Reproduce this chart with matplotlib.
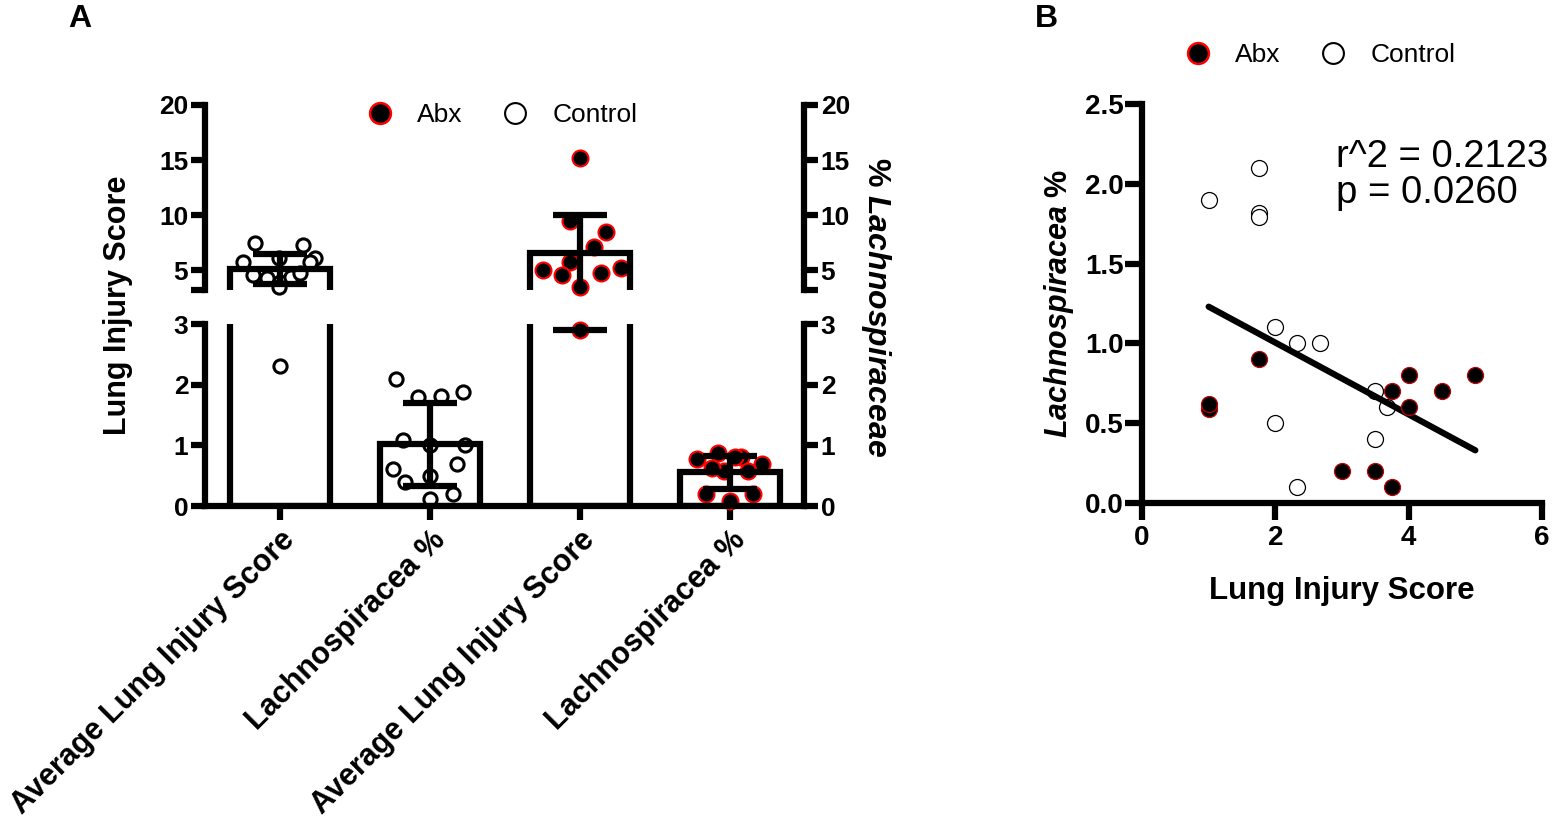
import numpy as np
import matplotlib
matplotlib.use("Agg")
import matplotlib.pyplot as plt
from matplotlib.lines import Line2D

plt.rcParams['font.family'] = ['Liberation Sans', 'DejaVu Sans']
plt.rcParams['mathtext.fontset'] = 'custom'
plt.rcParams['mathtext.rm'] = 'Liberation Sans'
plt.rcParams['mathtext.it'] = 'Liberation Sans:italic'
plt.rcParams['mathtext.bf'] = 'Liberation Sans:bold'
plt.rcParams['mathtext.bfit'] = 'Liberation Sans:italic:bold'

# -- Panel A: bars (mean with SD) --
bar_labels = ["Average Lung Injury Score", "Lachnospiracea %",
              "Average Lung Injury Score", "Lachnospiracea %"]
bar_means = [5.1, 1.03, 6.55, 0.56]
err_low = [3.75, 0.33, 2.9, 0.28]
err_high = [6.45, 1.70, 10.0, 0.83]

# individual points per bar (value, horizontal scatter offset)
ctrl_lung = [7.45, 7.3, 5.7, 6.1, 6.1, 5.7, 4.55, 4.3, 3.9, 4.4, 4.7, 3.5, 2.3]
ctrl_lung_jit = [-0.17, 0.15, -0.25, -0.01, 0.23, 0.2, -0.18, -0.09, 0.0, 0.07, 0.13, -0.01, 0.0]
ctrl_lach = [2.10, 1.80, 1.82, 1.88, 1.08, 1.0, 1.0, 0.69, 0.61, 0.50, 0.39, 0.19, 0.11]
ctrl_lach_jit = [-0.23, -0.08, 0.07, 0.22, -0.18, 0.0, 0.23, 0.18, -0.25, 0.0, -0.17, 0.15, 0.0]
abx_lung = [15.2, 9.5, 8.5, 7.1, 5.7, 5.0, 4.6, 4.7, 5.2, 3.5, 2.9]
abx_lung_jit = [0.0, -0.07, 0.17, 0.09, -0.07, -0.25, -0.12, 0.14, 0.27, 0.0, 0.0]
abx_lach = [0.77, 0.88, 0.80, 0.69, 0.58, 0.58, 0.62, 0.80, 0.19, 0.08, 0.19]
abx_lach_jit = [-0.22, -0.08, 0.07, 0.21, -0.04, 0.12, -0.12, 0.03, -0.16, 0.0, 0.15]

# -- Panel B: scatter with linear fit --
ctrl_x = [1.0, 1.76, 1.76, 1.76, 2.0, 2.33, 2.67, 2.0, 2.33, 3.5, 3.67, 3.5]
ctrl_y = [1.9, 2.1, 1.82, 1.79, 1.1, 1.0, 1.0, 0.5, 0.1, 0.7, 0.6, 0.4]
abx_x = [1.0, 1.01, 1.76, 3.0, 3.5, 3.75, 3.75, 4.0, 4.0, 4.5, 5.0]
abx_y = [0.59, 0.62, 0.9, 0.2, 0.2, 0.1, 0.7, 0.8, 0.6, 0.7, 0.8]
fit_x = [1.0, 5.0]
fit_y = [1.23, 0.33]

W, H = 1554, 822
LW = 4.5
fig = plt.figure(figsize=(W / 100, H / 100), dpi=100)

ax_hi = fig.add_axes([205 / W, 1 - 290 / H, 599 / W, 185 / H])
ax_lo = fig.add_axes([205 / W, 1 - 506 / H, 599 / W, 182 / H])
ax_b = fig.add_axes([1142 / W, 1 - 503 / H, 400 / W, 399 / H])

xpos = np.arange(len(bar_means))
means = np.array(bar_means)
cap_half = 0.18

groups = [(ctrl_lung, ctrl_lung_jit, 0, 'ctrl'),
          (ctrl_lach, ctrl_lach_jit, 1, 'ctrl'),
          (abx_lung, abx_lung_jit, 2, 'abx'),
          (abx_lach, abx_lach_jit, 3, 'abx')]

for ax, lo, hi in [(ax_lo, 0, 3), (ax_hi, 3.2, 20)]:
    ax.bar(xpos, means, width=0.667, color='white', edgecolor='none', zorder=1)
    ax.bar(xpos, means, width=0.667, fill=False, edgecolor='black', lw=LW, zorder=3)
    # SD bars: stem clipped to the segment, caps only where they fall inside it
    ax.vlines(xpos, err_low, err_high, color='black', lw=LW, zorder=4)
    for i in xpos:
        for yc in (err_low[i], err_high[i]):
            if lo <= yc <= hi:
                ax.hlines(yc, i - cap_half, i + cap_half, color='black', lw=LW,
                          zorder=4, clip_on=False)
    for vals, jit, i, kind in groups:
        v = np.array(vals)
        j = np.array(jit)
        keep = (v < 3.1) if ax is ax_lo else (v >= 3.1)
        if kind == 'ctrl':
            ax.plot(i + j[keep], v[keep], 'o', ms=9.5, mfc='white', mec='black',
                    mew=2.2, clip_on=False, zorder=2)
        else:
            ax.plot(i + j[keep], v[keep], 'o', ms=11.5, mfc='black', mec='red',
                    mew=1.5, clip_on=False, zorder=2)
    ax.set_xlim(-0.5, 3.493)
    ax.set_ylim(lo, hi)
    ax.spines['top'].set_visible(False)
    for sp in ax.spines.values():
        sp.set_linewidth(LW)
        sp.set_capstyle('projecting')
    ax.tick_params(axis='both', direction='out', width=LW, length=10, labelsize=19,
                   right=True, labelright=True)
    ax.tick_params(axis='y', pad=2)

ax_lo.set_yticks([0, 1, 2, 3])
ax_lo.set_yticklabels(['0', '1', '2', '3'])
ax_lo.set_xticks(xpos)
ax_lo.set_xticklabels(bar_labels, rotation=45, ha='right', rotation_mode='anchor',
                      fontsize=22, fontweight='bold')

ax_hi.set_yticks([3.2, 5, 10, 15, 20])
ax_hi.set_yticklabels(['', '5', '10', '15', '20'])
ax_hi.spines['bottom'].set_visible(False)
ax_hi.tick_params(axis='x', bottom=False, labelbottom=False)

for ax in (ax_lo, ax_hi):
    for tk in ax.yaxis.get_major_ticks():
        tk.label1.set_fontweight('bold')
        tk.label2.set_fontweight('bold')

fig.text(118 / W, 1 - 305 / H, "Lung Injury Score", rotation=90, ha='center',
         va='center', fontsize=22, fontweight='bold')
fig.text(876 / W, 1 - 307 / H, r"% $\mathbfit{Lachnospiraceae}$", rotation=270,
         ha='center', va='center', fontsize=23, fontweight='bold')

h_abx = Line2D([], [], ls='none', marker='o', ms=15, mfc='black', mec='red', mew=1.8)
h_ctrl = Line2D([], [], ls='none', marker='o', ms=15, mfc='white', mec='black', mew=1.5)
ax_hi.legend([h_abx, h_ctrl], ["Abx", "Control"], ncol=2, loc='center',
             bbox_to_anchor=(502 / W, 1 - 115 / H), bbox_transform=fig.transFigure,
             frameon=False, fontsize=19, handlelength=1.0, handletextpad=0.9,
             columnspacing=1.5)

# -- Panel B --
ax_b.plot(ctrl_x, ctrl_y, 'o', ms=11.5, mfc='white', mec='black', mew=0.9,
          clip_on=False, zorder=3)
ax_b.plot(fit_x, fit_y, '-', color='black', lw=LW, solid_capstyle='round', zorder=4)
ax_b.plot(abx_x, abx_y, 'o', ms=11.5, mfc='black', mec='#c00000', mew=0.9,
          clip_on=False, zorder=5)
ax_b.set_xlim(0, 6)
ax_b.set_ylim(0, 2.5)
ax_b.set_xticks([0, 2, 4, 6])
ax_b.set_yticks([0, 0.5, 1.0, 1.5, 2.0, 2.5])
ax_b.set_yticklabels(['0.0', '0.5', '1.0', '1.5', '2.0', '2.5'])
ax_b.spines['top'].set_visible(False)
ax_b.spines['right'].set_visible(False)
for sp in ax_b.spines.values():
    sp.set_linewidth(LW)
    sp.set_capstyle('projecting')
ax_b.tick_params(axis='both', direction='out', width=LW, length=12, labelsize=20)
ax_b.tick_params(axis='y', pad=1)
for t in ax_b.get_xticklabels() + ax_b.get_yticklabels():
    t.set_fontweight('bold')
ax_b.set_xlabel("Lung Injury Score", fontsize=22.5, fontweight='bold')
ax_b.xaxis.set_label_coords(0.5, -0.183)
ax_b.set_ylabel(r"$\mathbfit{Lachnospiracea}$ %", fontsize=22, fontweight='bold')
ax_b.yaxis.set_label_coords(-0.165, 0.5)

ax_b.text(2.91, 2.105, "r^2 = 0.2123", fontsize=27.5, va='baseline')
ax_b.text(2.91, 1.88, "p = 0.0260", fontsize=27.5, va='baseline')

ax_b.legend([h_abx, h_ctrl], ["Abx", "Control"], ncol=2, loc='center',
            bbox_to_anchor=(1320 / W, 1 - 55 / H), bbox_transform=fig.transFigure,
            frameon=False, fontsize=19, handlelength=1.0, handletextpad=0.9,
            columnspacing=1.5)

fig.text(68 / W, 1 - 4 / H, "A", fontsize=23, fontweight='bold', va='top')
fig.text(1035 / W, 1 - 4 / H, "B", fontsize=23, fontweight='bold', va='top')

fig.savefig("out.png", dpi=100)
